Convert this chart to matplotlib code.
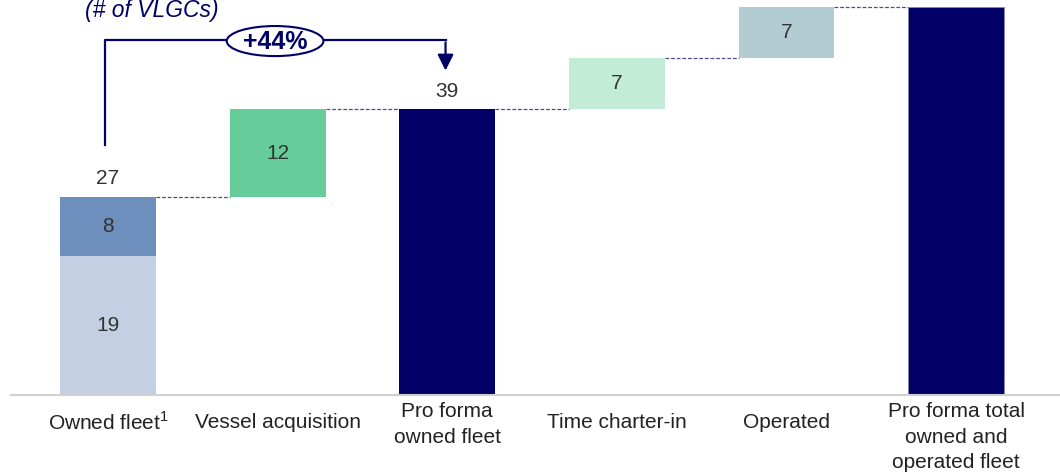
import numpy as np
import matplotlib
matplotlib.use('Agg')
import matplotlib.pyplot as plt
from matplotlib.patches import Ellipse

plt.rcParams['font.family'] = ['Liberation Sans', 'DejaVu Sans']
plt.rcParams['mathtext.fontset'] = 'custom'
plt.rcParams['mathtext.rm'] = 'Liberation Sans'

# data
categories = [r'Owned fleet$^\mathregular{1}$', 'Vessel acquisition', 'Pro forma\nowned fleet',
              'Time charter-in', 'Operated', 'Pro forma total\nowned and\noperated fleet']
owned_base = 19
owned_top = 8
steps = [12, 7, 7]   # vessel acquisition, time charter-in, operated
growth_label = '+44%'

NAVY = '#000066'
c_base = '#C3CFE2'
c_top = '#6E8EBD'
c_acq = '#66CC99'
c_tc = '#C2ECD7'
c_op = '#B3CCD1'

owned_total = owned_base + owned_top
pro_forma = owned_total + steps[0]
after_tc = pro_forma + steps[1]
total = after_tc + steps[2]

fig = plt.figure(figsize=(10.6, 4.75), dpi=100)
ax = fig.add_axes([0, 0.168, 1, 0.832])
x = np.arange(len(categories))
w = 0.565

# bars
ax.bar(x[0], owned_base, w, color=c_base)
ax.bar(x[0], owned_top, w, bottom=owned_base, color=c_top)
ax.bar(x[1], steps[0], w, bottom=owned_total, color=c_acq)
ax.bar(x[2], pro_forma, w, color=NAVY)
ax.bar(x[3], steps[1], w, bottom=pro_forma, color=c_tc)
ax.bar(x[4], steps[2], w, bottom=after_tc, color=c_op)
ax.bar(x[5], total, w, color=NAVY, edgecolor='#8888aa', linewidth=0.6)

# connectors
levels = [owned_total, pro_forma, pro_forma, after_tc, total]
for i, lv in enumerate(levels):
    ax.plot([x[i] + w / 2, x[i + 1] - w / 2], [lv, lv], color='#4a4a99',
            lw=0.9, ls=(0, (3, 1.5)))

# value labels (total label falls above the frame, as in the source)
txt = dict(ha='center', va='center', fontsize=15, color='#333333')
ax.text(x[0], owned_base / 2, str(owned_base), **txt)
ax.text(x[0], owned_base + owned_top / 2, str(owned_top), **txt)
ax.text(x[0], owned_total + 2.5, str(owned_total), **txt)
ax.text(x[1], owned_total + steps[0] / 2, str(steps[0]), **txt)
ax.text(x[2], pro_forma + 2.4, str(pro_forma), **txt)
ax.text(x[3], pro_forma + steps[1] / 2, str(steps[1]), **txt)
ax.text(x[4], after_tc + steps[2] / 2, str(steps[2]), **txt)

# category labels
for xi, lab in zip(x, categories):
    if '\n' in lab:
        ax.text(xi, -0.9, lab, ha='center', va='top', fontsize=15,
                color='#222222', linespacing=1.45, clip_on=False)
    else:
        ax.text(xi, -3.7, lab, ha='center', va='center', fontsize=15,
                color='#222222', clip_on=False)

# baseline
ax.plot([-0.57, 5.62], [0, 0], color='#d0d0d0', lw=1.5, clip_on=False)

# growth arrow
ax.plot([x[0] - 0.02, x[0] - 0.02, x[2] - 0.01], [34.1, 48.4, 48.4], color=NAVY, lw=1.6)
ax.annotate('', xy=(x[2] - 0.01, 43.9), xytext=(x[2] - 0.01, 48.5),
            arrowprops=dict(arrowstyle='-|>', color=NAVY, lw=1.6, mutation_scale=24))
ax.add_patch(Ellipse((0.985, 48.3), 0.57, 4.1, facecolor='white', edgecolor=NAVY, lw=1.5, zorder=5))
ax.text(0.985, 48.2, growth_label, ha='center', va='center', fontsize=18,
        fontweight='bold', color=NAVY, zorder=6)

ax.text(0.26, 52.4, '(# of VLGCs)', ha='center', va='center', fontsize=16.5,
        style='italic', color=NAVY, clip_on=False)

ax.set_xlim(-0.637, 5.613)
ax.set_ylim(0, 53.9)
ax.axis('off')

fig.savefig('out.png', dpi=100)
